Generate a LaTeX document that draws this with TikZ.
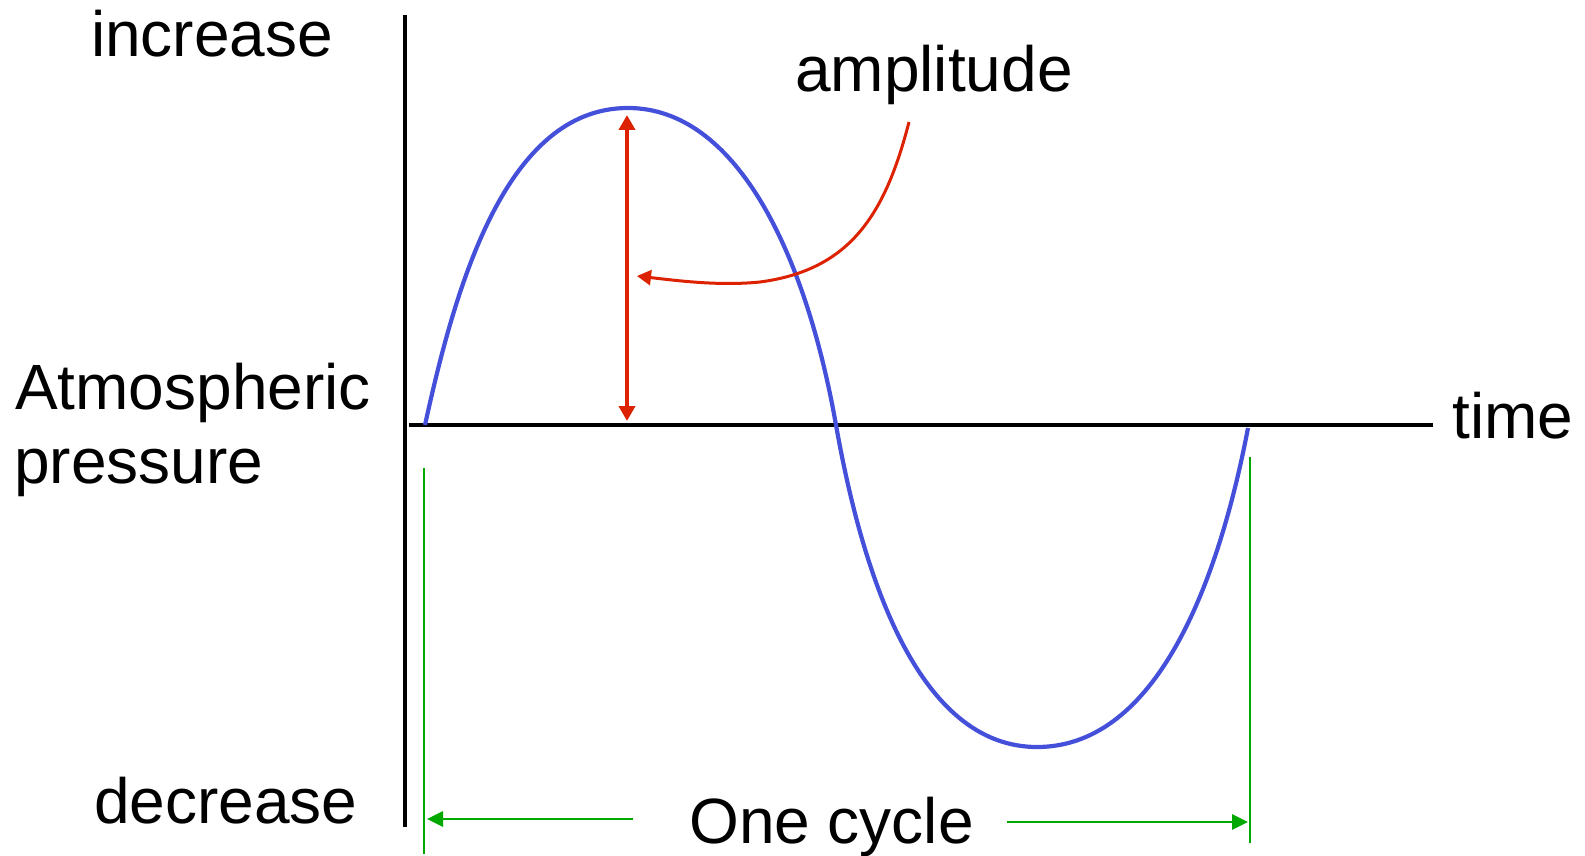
\documentclass[tikz,border=0pt]{standalone}
\usepackage{fontspec}
\setmainfont{Liberation Sans}
\usetikzlibrary{arrows.meta}
\definecolor{wave}{RGB}{68,80,218}
\definecolor{ampred}{RGB}{220,34,0}
\definecolor{cycgreen}{RGB}{0,168,0}
\begin{document}
\begin{tikzpicture}[x=1pt,y=-1pt,
  lbl/.style={font=\fontsize{64}{76}\selectfont, inner sep=0pt, anchor=base west},
  axisline/.style={line width=4pt, black},
  wavecurve/.style={line width=4.2pt, wave, line join=round},
  ampline/.style={line width=4pt, ampred},
  pointer/.style={line width=3pt, ampred},
  cycline/.style={line width=2.8pt, cycgreen}]
\useasboundingbox (0,0) rectangle (1585,856);

% labels
\node[lbl] (inc) at (91,57) {increase};
\node[lbl] (atm) at (15,409) {Atmospheric};
\node[lbl] (pres) at (14,483) {pressure};
\node[lbl] (dec) at (94,823) {decrease};
\node[lbl] (amp) at (795,92) {amplitude};
\node[lbl] (time) at (1452,438) {time};
\node[lbl] (cyc) at (689,843) {One cycle};

% axes
\coordinate (vtop) at (405,15);
\coordinate (vbot) at (405,827);
\coordinate (hleft) at (409,425);
\coordinate (hright) at (1433,425);
\draw[axisline] (vtop) -- (vbot);
\draw[axisline] (hleft) -- (hright);

% wave
\coordinate (w0) at (425,425);
\coordinate (wpeak) at (628,108);
\coordinate (wmid) at (836,425);
\coordinate (wtrough) at (1037,747);
\coordinate (wend) at (1248,428);
\draw[wavecurve] (w0) .. controls (455,288) and (505,108) .. (wpeak)
  .. controls (735,108) and (805,250) .. (wmid)
  .. controls (867,600) and (927,747) .. (wtrough)
  .. controls (1150,747) and (1215,600) .. (wend);

% amplitude arrow
\coordinate (amptop) at (627,115);
\coordinate (ampbot) at (627,421);
\draw[ampline, {Triangle[length=15pt,width=16pt]}-{Triangle[length=15pt,width=16pt]}] (amptop) -- (ampbot);

% pointer from label
\coordinate (pstart) at (909,122);
\coordinate (pmid) at (760,282);
\coordinate (ptip) at (637,276);
\draw[pointer, -{Triangle[length=14pt,width=15pt]}] (pstart) .. controls (885,215) and (850,270) .. (pmid) .. controls (720,286) and (680,281) .. (ptip);

% one cycle markers
\coordinate (gl1) at (424,468);
\coordinate (gl2) at (424,854);
\coordinate (gr1) at (1250,457);
\coordinate (gr2) at (1250,843);
\draw[cycline] (gl1) -- (gl2);
\draw[cycline] (gr1) -- (gr2);
\coordinate (la) at (633,819);
\coordinate (lt) at (427,819);
\coordinate (ra) at (1007,822);
\coordinate (rt) at (1248,822);
\draw[cycline, -{Triangle[length=16pt,width=15pt]}] (la) -- (lt);
\draw[cycline, -{Triangle[length=16pt,width=15pt]}] (ra) -- (rt);
\end{tikzpicture}
\end{document}
